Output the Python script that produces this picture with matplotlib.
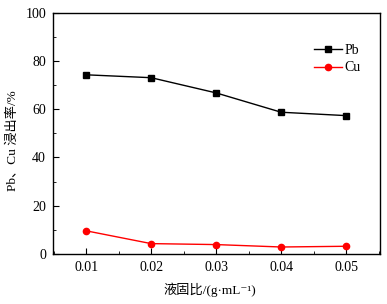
import matplotlib
matplotlib.use("Agg")
import matplotlib.pyplot as plt
from matplotlib.ticker import MultipleLocator

x = [0.01, 0.02, 0.03, 0.04, 0.05]
pb = [74.2, 73.0, 66.7, 58.7, 57.3]
cu = [9.6, 4.3, 3.9, 2.9, 3.2]
xticklabels = ["0.01", "0.02", "0.03", "0.04", "0.05"]

fam = ['Liberation Serif', 'Noto Sans CJK SC', 'DejaVu Serif']
plt.rcParams['font.family'] = fam

fig = plt.figure(figsize=(3.87, 3.04), dpi=100)
ax = fig.add_axes([53/387, 1-254/304, (380-53)/387, (254-12.5)/304])
ax.plot(x, pb, color='black', marker='s', markersize=4.5, linewidth=1.0, label='Pb')
ax.plot(x, cu, color='red', marker='o', markersize=4.5, linewidth=1.0, label='Cu')
ax.set_xlim(0.0049, 0.0552)
ax.set_ylim(0, 100)
ax.set_xticks(x)
ax.set_xticklabels(xticklabels)
ax.xaxis.set_minor_locator(MultipleLocator(0.005))
ax.yaxis.set_major_locator(MultipleLocator(20))
ax.yaxis.set_minor_locator(MultipleLocator(10))
ax.tick_params(which='both', direction='in', top=False, right=False, labelsize=10, pad=5)
ax.tick_params(which='major', length=4)
ax.tick_params(which='minor', length=2)
for s in ax.spines.values():
    s.set_linewidth(1.0)
ax.set_ylabel('Pb、Cu 浸出率/%', fontsize=9.5, family=fam)
ax.yaxis.set_label_coords(-0.105, 0.47)
ax.set_xlabel('液固比/(g·mL⁻¹)', fontsize=9.5, family=fam)
ax.xaxis.set_label_coords(0.48, -0.12)
ax.legend(loc='upper right', bbox_to_anchor=(0.98, 0.92), frameon=False, fontsize=10,
          handlelength=2.0, handletextpad=0.2, labelspacing=0.3)
fig.savefig('out.png', dpi=100)
